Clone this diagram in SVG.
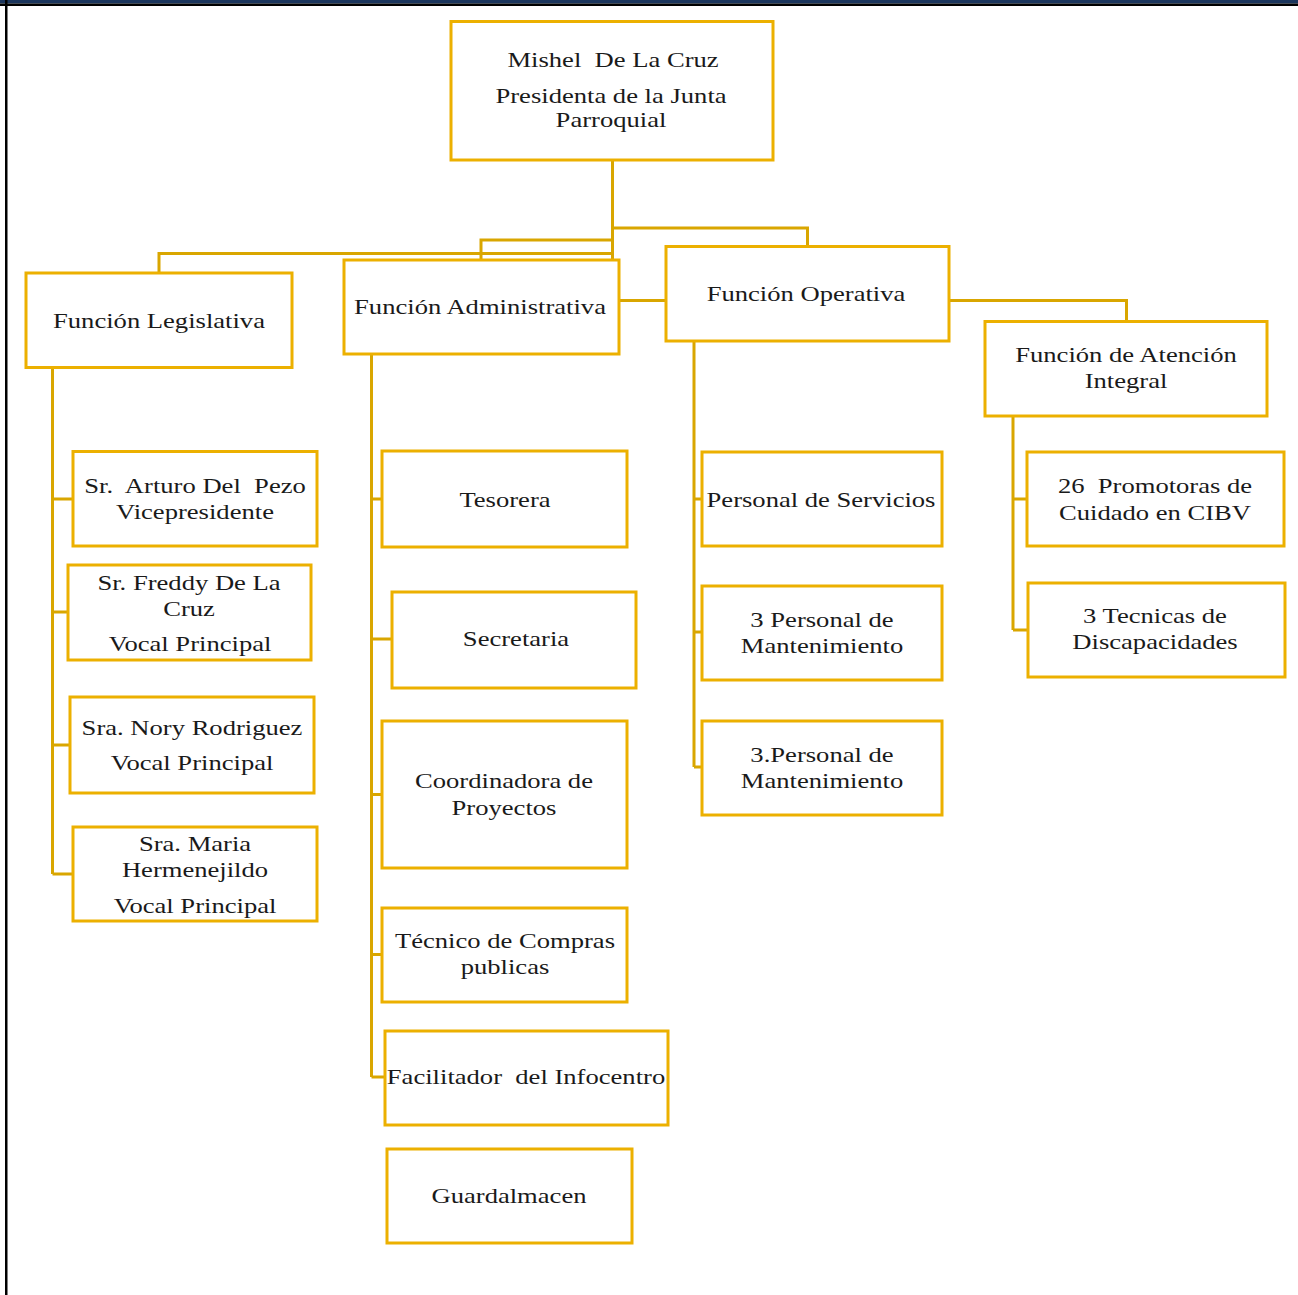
<svg xmlns="http://www.w3.org/2000/svg" width="1298" height="1295" viewBox="0 0 1298 1295" xml:space="preserve">
<style>
.box{fill:#fff;stroke:#ECB000;stroke-width:3}
.con{fill:none;stroke:#D9A600;stroke-width:3}
.t{font-family:"Liberation Serif","Times New Roman",serif;font-size:21px;fill:#1a1a1a;text-anchor:middle;white-space:pre}
</style>
<rect x="0" y="0" width="1298" height="1295" fill="#fff"/>
<rect x="0" y="0" width="1298" height="3.5" fill="#1B365D"/>
<rect x="0" y="3.5" width="1298" height="2.5" fill="#000"/>
<rect x="5" y="0" width="2.5" height="1295" fill="#000"/>

<g id="connectors">
<path class="con" d="M612.5 160V259M612.5 228H807.5V246M612.5 240H481V260M612.5 253.5H159V273"/>
<path class="con" d="M619 300.5H666M949 300.5H1126.5V321"/>
<path class="con" d="M52.5 367V874M52.5 499H73M52.5 612H68M52.5 745H70M52.5 874H73"/>
<path class="con" d="M371.5 354V1077M371.5 499H382M371.5 639H392M371.5 794.5H382M371.5 954.5H382M371.5 1077H385"/>
<path class="con" d="M694 341V767M694 499H702M694 632H702M694 767H702"/>
<path class="con" d="M1013 416V630M1013 499H1027M1013 630H1028"/>
</g>

<g id="presidenta">
<rect class="box" x="451" y="21.5" width="322" height="138.5"/>
<text class="t" transform="translate(613 67) scale(1.267 1)">Mishel  De La Cruz</text>
<text class="t" transform="translate(611 103) scale(1.267 1)">Presidenta de la Junta</text>
<text class="t" transform="translate(611 127) scale(1.267 1)">Parroquial</text>
</g>

<g id="legislativa">
<rect class="box" x="26" y="273" width="266" height="94.5"/>
<text class="t" transform="translate(159 328) scale(1.267 1)">Función Legislativa</text>
</g>
<g id="administrativa">
<rect class="box" x="344" y="260" width="275" height="94"/>
<text class="t" transform="translate(480 314) scale(1.267 1)">Función Administrativa</text>
</g>
<g id="operativa">
<rect class="box" x="666" y="246.5" width="283" height="94.5"/>
<text class="t" transform="translate(806 301) scale(1.267 1)">Función Operativa</text>
</g>
<g id="atencion">
<rect class="box" x="985" y="321.5" width="282" height="94.5"/>
<text class="t" transform="translate(1126 362) scale(1.267 1)">Función de Atención</text>
<text class="t" transform="translate(1126 388) scale(1.267 1)">Integral</text>
</g>

<g id="arturo">
<rect class="box" x="73" y="451.5" width="244" height="94.5"/>
<text class="t" transform="translate(195 493) scale(1.267 1)">Sr.  Arturo Del  Pezo</text>
<text class="t" transform="translate(195 519) scale(1.267 1)">Vicepresidente</text>
</g>
<g id="freddy">
<rect class="box" x="68" y="565" width="243" height="95"/>
<text class="t" transform="translate(189 590) scale(1.267 1)">Sr. Freddy De La</text>
<text class="t" transform="translate(189 616) scale(1.267 1)">Cruz</text>
<text class="t" transform="translate(190 651) scale(1.267 1)">Vocal Principal</text>
</g>
<g id="nory">
<rect class="box" x="70" y="697" width="244" height="96"/>
<text class="t" transform="translate(192 735) scale(1.267 1)">Sra. Nory Rodriguez</text>
<text class="t" transform="translate(192 770) scale(1.267 1)">Vocal Principal</text>
</g>
<g id="maria">
<rect class="box" x="73" y="827" width="244" height="94"/>
<text class="t" transform="translate(195 851) scale(1.267 1)">Sra. Maria</text>
<text class="t" transform="translate(195 877) scale(1.267 1)">Hermenejildo</text>
<text class="t" transform="translate(195 913) scale(1.267 1)">Vocal Principal</text>
</g>

<g id="tesorera">
<rect class="box" x="382" y="451" width="245" height="96"/>
<text class="t" transform="translate(505 507) scale(1.267 1)">Tesorera</text>
</g>
<g id="secretaria">
<rect class="box" x="392" y="592" width="244" height="96"/>
<text class="t" transform="translate(516 646) scale(1.267 1)">Secretaria</text>
</g>
<g id="coordinadora">
<rect class="box" x="382" y="721" width="245" height="147"/>
<text class="t" transform="translate(504 788) scale(1.267 1)">Coordinadora de</text>
<text class="t" transform="translate(504 815) scale(1.267 1)">Proyectos</text>
</g>
<g id="tecnico">
<rect class="box" x="382" y="908" width="245" height="94"/>
<text class="t" transform="translate(505 948) scale(1.267 1)">Técnico de Compras</text>
<text class="t" transform="translate(505 974) scale(1.267 1)">publicas</text>
</g>
<g id="facilitador">
<rect class="box" x="385" y="1031" width="283" height="94"/>
<text class="t" transform="translate(526 1084) scale(1.267 1)">Facilitador  del Infocentro</text>
</g>
<g id="guardalmacen">
<rect class="box" x="387" y="1149" width="245" height="94"/>
<text class="t" transform="translate(509 1203) scale(1.267 1)">Guardalmacen</text>
</g>

<g id="servicios">
<rect class="box" x="702" y="452" width="240" height="94"/>
<text class="t" transform="translate(821 507) scale(1.267 1)">Personal de Servicios</text>
</g>
<g id="mantenimiento1">
<rect class="box" x="702" y="586" width="240" height="94"/>
<text class="t" transform="translate(822 627) scale(1.267 1)">3 Personal de</text>
<text class="t" transform="translate(822 653) scale(1.267 1)">Mantenimiento</text>
</g>
<g id="mantenimiento2">
<rect class="box" x="702" y="721" width="240" height="94"/>
<text class="t" transform="translate(822 762) scale(1.267 1)">3.Personal de</text>
<text class="t" transform="translate(822 788) scale(1.267 1)">Mantenimiento</text>
</g>

<g id="promotoras">
<rect class="box" x="1027" y="452" width="257" height="94"/>
<text class="t" transform="translate(1155 493) scale(1.267 1)">26  Promotoras de</text>
<text class="t" transform="translate(1155 520) scale(1.267 1)">Cuidado en CIBV</text>
</g>
<g id="tecnicas">
<rect class="box" x="1028" y="583" width="257" height="94"/>
<text class="t" transform="translate(1155 623) scale(1.267 1)">3 Tecnicas de</text>
<text class="t" transform="translate(1155 649) scale(1.267 1)">Discapacidades</text>
</g>
</svg>
